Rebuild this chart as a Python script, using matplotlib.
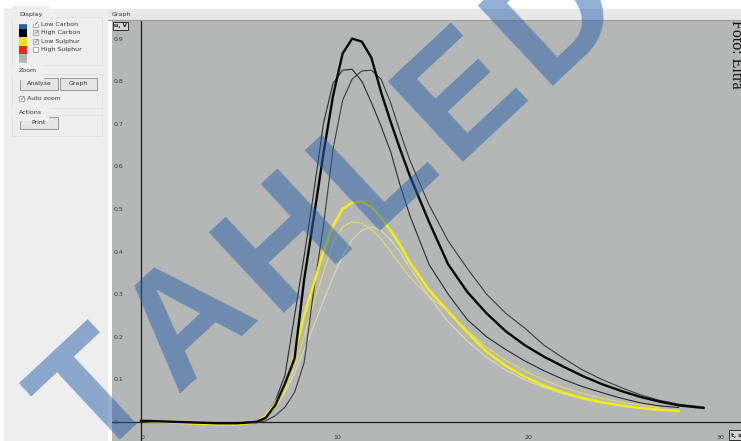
import numpy as np
import matplotlib.pyplot as plt
from matplotlib.patches import Rectangle

nan = np.nan

# time axis of the analyser, s
t = [0, 2, 4, 5, 6, 6.5, 7, 7.5, 8, 8.5, 9, 9.5, 10, 10.5, 11, 11.5, 12, 12.5,
     13, 13.5, 14, 15, 16, 17, 18, 19, 20, 21, 22, 23, 24, 25, 26, 27, 28, 29.3]

# High Carbon cell signals, V
hc_main = [0.003, 0.0, -0.003, -0.003, 0.0, 0.01, 0.04, 0.09, 0.15, 0.335,
           0.48, 0.63, 0.765, 0.865, 0.90, 0.893, 0.855, 0.775, 0.705, 0.64,
           0.578, 0.47, 0.37, 0.305, 0.255, 0.213, 0.18, 0.153, 0.13, 0.108,
           0.089, 0.073, 0.059, 0.048, 0.039, 0.033]
hc_left = [0.003, 0.0, -0.003, -0.003, 0.002, 0.015, 0.05, 0.11, 0.25, 0.39,
           0.54, 0.70, 0.795, 0.826, 0.828, 0.80, 0.75, 0.695, 0.635, 0.555,
           0.485, 0.37, 0.30, 0.24, 0.20, 0.17, 0.143, 0.12, 0.10, 0.083,
           0.069, 0.056, 0.045, 0.038, 0.034, nan]
hc_right = [0.002, 0.0, -0.003, -0.003, -0.002, 0.003, 0.015, 0.035, 0.07, 0.14,
            0.31, 0.46, 0.64, 0.755, 0.805, 0.824, 0.826, 0.805, 0.75, 0.68,
            0.615, 0.51, 0.425, 0.36, 0.30, 0.255, 0.22, 0.18, 0.15, 0.122,
            0.10, 0.081, 0.064, 0.051, 0.042, 0.035]

# Low Sulphur cell signals, V
ls_main = [0.003, -0.002, -0.006, -0.006, 0.0, 0.015, 0.045, 0.085, 0.16, 0.25,
           0.325, 0.40, 0.46, 0.50, 0.515, 0.517, 0.505, 0.48, 0.45, 0.415,
           0.375, 0.31, 0.26, 0.21, 0.165, 0.132, 0.106, 0.085, 0.069, 0.056,
           0.046, 0.039, 0.033, 0.029, 0.026, nan]
ls_mid = [0.003, -0.002, -0.005, -0.005, 0.001, 0.012, 0.035, 0.075, 0.13, 0.20,
          0.28, 0.35, 0.42, 0.458, 0.47, 0.467, 0.452, 0.43, 0.40, 0.37,
          0.34, 0.295, 0.26, 0.215, 0.175, 0.145, 0.12, 0.098, 0.081, 0.067,
          0.056, 0.047, 0.04, 0.034, nan, nan]
ls_pale = [0.002, -0.002, -0.005, -0.005, 0.0, 0.012, 0.035, 0.07, 0.115, 0.17,
           0.225, 0.285, 0.34, 0.39, 0.428, 0.45, 0.458, 0.45, 0.428, 0.398,
           0.362, 0.295, 0.235, 0.19, 0.152, 0.122, 0.099, 0.081, 0.066, 0.054,
           0.045, 0.038, 0.032, 0.028, nan, nan]

y_ticks = [0, 0.1, 0.2, 0.3, 0.4, 0.5, 0.6, 0.7, 0.8, 0.9]
y_labels = ['0', '0.1', '0.2', '0.3', '0.4', '0.5', '0.6', '0.7', '0.8', '0.9']
x_ticks = [0, 10, 20, 30]
x_labels = ['0', '10', '20', '30']

legend_names = ['Low Carbon', 'High Carbon', 'Low Sulphur', 'High Sulphur']
legend_colors = ['#1f5fb0', '#050505', '#f2e21c', '#e22a20', '#b4b4b4']
legend_checked = [True, True, True, False]

wm_letters = 'TAHLED'
wm_widths = [0.611, 0.722, 0.722, 0.611, 0.667, 0.722]

W, H = 741, 441
fig = plt.figure(figsize=(W / 100, H / 100), dpi=100)
fig.patch.set_facecolor('white')

# graph area
ax = fig.add_axes([112 / W, 0, (W - 112) / W, 421 / H], zorder=1)
ax.set_facecolor('#b5b7b6')
ax.set_xlim(-1.51, 31.25)
ax.set_ylim(-0.0446, 0.9437)
for s in ax.spines.values():
    s.set_visible(False)
ax.axhline(0, color='#1a1a1a', lw=0.9, zorder=2)
ax.axvline(0, color='#1a1a1a', lw=0.9, zorder=2)

ax.plot(t, ls_pale, color='#dedcaa', lw=0.8, zorder=3)
ax.plot(t, ls_mid, color='#e2dc6a', lw=0.8, zorder=3)
ax.plot(t, hc_left, color='#2c2c2c', lw=0.8, zorder=4)
ax.plot(t, hc_right, color='#3c3c3c', lw=0.8, zorder=4)
ax.plot(t, ls_main, color='#f4ee10', lw=1.8, zorder=5)
ax.plot(t, hc_main, color='#080808', lw=1.7, zorder=6)

ax.set_yticks(y_ticks)
ax.set_yticklabels(y_labels)
ax.set_xticks(x_ticks)
ax.set_xticklabels(x_labels)
ax.tick_params(axis='y', length=0, pad=-1.5, labelsize=4.5, labelcolor='#3a3a3a')
ax.tick_params(axis='x', length=0, pad=-1.0, labelsize=4.5, labelcolor='#3a3a3a')
for lab in ax.get_yticklabels():
    lab.set_horizontalalignment('left')
for lab in ax.get_xticklabels():
    lab.set_verticalalignment('bottom')
    lab.set_horizontalalignment('left')

# window chrome in pixel coordinates
ui = fig.add_axes([0, 0, 1, 1], zorder=2)
ui.set_xlim(0, W)
ui.set_ylim(H, 0)
ui.axis('off')
ui.patch.set_alpha(0)

ui.add_patch(Rectangle((4, 9), 104, H - 9, fc='#eeeeee', ec='none'))
ui.add_patch(Rectangle((108, 9), W - 108, 11, fc='#e8e8e8', ec='none'))
ui.plot([108, W], [19.5, 19.5], color='#9c9c9c', lw=0.8)
ui.text(112, 14.5, 'Graph', fontsize=4.5, va='center', color='#333333')

for y0, h in [(17, 48), (74, 34), (115, 21)]:
    ui.add_patch(Rectangle((12, y0), 90, h, fill=False, ec='#e0e0e0', lw=0.6))
ui.text(19, 14.5, 'Display', fontsize=4.5, va='center', color='#333333', backgroundcolor='#eeeeee')
ui.text(19, 71, 'Zoom', fontsize=4.5, va='center', color='#333333', backgroundcolor='#eeeeee')
ui.text(19, 112, 'Actions', fontsize=4.5, va='center', color='#333333', backgroundcolor='#eeeeee')

for i, c in enumerate(legend_colors):
    ui.add_patch(Rectangle((19, 20 + i * 8.6), 8, 8.6, fc=c, ec='none'))
for i, (name, chk) in enumerate(zip(legend_names, legend_checked)):
    yc = 24 + i * 8.6
    ui.add_patch(Rectangle((33, yc - 2.6), 5.2, 5.2, fc='white', ec='#8a8a8a', lw=0.5))
    if chk:
        ui.text(35.6, yc, '\u2713', fontsize=4.5, ha='center', va='center', color='#2b3f8a')
    ui.text(41, yc, name, fontsize=4.5, va='center', color='#333333')

for x0, w, y0, name in [(20, 38, 78, 'Analyse'), (60, 37, 78, 'Graph'), (20, 38, 117, 'Print')]:
    ui.add_patch(Rectangle((x0, y0), w, 12, fc='#e4e4e4', ec='#8c8c8c', lw=0.6))
    ui.text(x0 + w / 2, y0 + 6, name, fontsize=4.5, ha='center', va='center', color='#333333')

ui.add_patch(Rectangle((19, 96), 5.2, 5.2, fc='white', ec='#8a8a8a', lw=0.5))
ui.text(21.6, 98.6, '\u2713', fontsize=4.5, ha='center', va='center', color='#2b3f8a')
ui.text(27, 98.6, 'Auto zoom', fontsize=4.5, va='center', color='#333333')

# axis unit boxes
ui.add_patch(Rectangle((113, 22), 15, 8, fc='#d6d6d6', ec='#303030', lw=0.7))
ui.text(120.5, 26, 'u, V', fontsize=4.2, ha='center', va='center', weight='bold', color='#202020')
ui.add_patch(Rectangle((729, 430), 14, 10, fc='#d6d6d6', ec='#303030', lw=0.7))
ui.text(731, 435, 't, s', fontsize=4.2, ha='left', va='center', weight='bold', color='#202020')

ui.text(732.5, 20, 'Foto: Eltra', rotation=-90, rotation_mode='anchor', ha='left',
        va='baseline', fontsize=11.5, family='Liberation Serif', color='#111111')

# watermark, letters spread along a rising line
em = 160 * 1.1
ang = np.radians(40)
pos = 0.0
for ch, w in zip(wm_letters, wm_widths):
    d = (pos + w / 2) * em
    ui.text(87 + d * np.cos(ang), 465 - d * np.sin(ang), ch, rotation=43,
            rotation_mode='anchor', ha='center', va='baseline', fontsize=115,
            family='Liberation Sans', weight='bold', color='#285fa8',
            alpha=0.5, zorder=10)
    pos += w

fig.savefig('out.png', dpi=100)
